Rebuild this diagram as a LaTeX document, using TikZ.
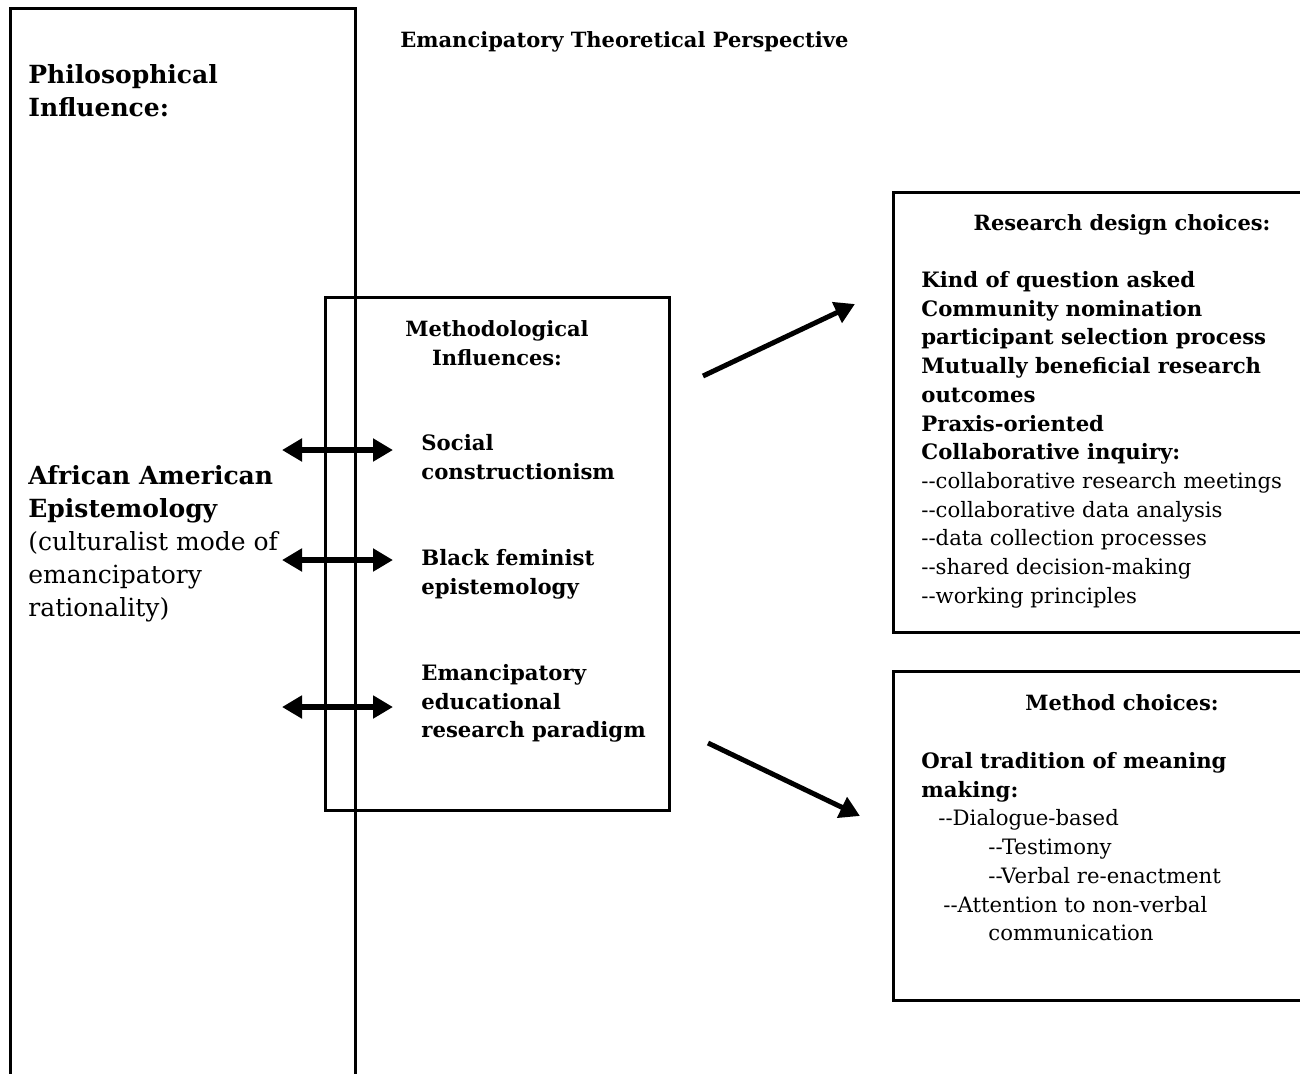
\documentclass[tikz,border=0pt]{standalone}
\usepackage{fontspec}
\setmainfont{DejaVu Serif}
\usetikzlibrary{arrows.meta}

\begin{document}
\begin{tikzpicture}[x=0.5pt, y=-0.5pt,
    box/.style={draw, line width=1.5pt},
    txt/.style={anchor=north west, inner sep=0pt, align=left, font=\fontsize{10.6}{14.35}\selectfont},
    big/.style={anchor=north west, inner sep=0pt, align=left, font=\fontsize{12.5}{16.5}\selectfont},
    head/.style={anchor=north, inner sep=0pt, align=center, font=\fontsize{10.5}{14.35}\selectfont\bfseries},
    twoway/.style={line width=3.2pt, {Triangle[length=10pt,width=11pt]}-{Triangle[length=10pt,width=11pt]}},
    oneway/.style={line width=2.5pt, -{Triangle[length=10pt,width=11pt]}}]
    \useasboundingbox (0,0) rectangle (1300,1073);
    \fill [white] (0,0) rectangle (1300,1073);

    \draw [box] (10,1085) -- (10,8) -- (355,8) -- (355,1085);
    \draw [box] (325,297) rectangle (669,810);
    \draw [box] (893,192) rectangle (1315,632);
    \draw [box] (893,671) rectangle (1315,1000);

    \node [txt, font=\fontsize{10.5}{14.35}\selectfont] (title) at (400,31) {\bfseries Emancipatory Theoretical Perspective};
    \node [big] (philo) at (28,64) {\bfseries Philosophical\\\bfseries Influence:};
    \node [big] (epist) at (28,465) {\textbf{African American}\\\textbf{Epistemology}\\(culturalist mode of\\emancipatory\\rationality)};

    \node [head] (methinf) at (497,320) {Methodological\\Influences:};
    \node [txt] (social) at (421,434) {\bfseries Social\\\bfseries constructionism};
    \node [txt] (black) at (421,549) {\bfseries Black feminist\\\bfseries epistemology};
    \node [txt] (emanc) at (421,664) {\bfseries Emancipatory\\\bfseries educational\\\bfseries research paradigm};

    \node [head] (design) at (1122,214) {Research design choices:};
    \node [txt] (designlist) at (921,271) {\textbf{Kind of question asked}\\\textbf{Community nomination}\\\textbf{participant selection process}\\\textbf{Mutually beneficial research}\\\textbf{outcomes}\\\textbf{Praxis-oriented}\\\textbf{Collaborative inquiry:}\\-{}-collaborative research meetings\\-{}-collaborative data analysis\\-{}-data collection processes\\-{}-shared decision-making\\-{}-working principles};

    \node [head] (method) at (1122,694) {Method choices:};
    \node [txt] (methodlist) at (921,752) {\textbf{Oral tradition of meaning}\\\textbf{making:}\\\hspace*{8.5pt}-{}-Dialogue-based\\\hspace*{33.5pt}-{}-Testimony\\\hspace*{33.5pt}-{}-Verbal re-enactment\\\hspace*{11pt}-{}-Attention to non-verbal\\\hspace*{33.5pt}communication};

    \coordinate (sl) at (282,450);
    \coordinate (sr) at (393,450);
    \coordinate (bl) at (282,560);
    \coordinate (br) at (393,560);
    \coordinate (el) at (282,707);
    \coordinate (er) at (393,707);
    \coordinate (up0) at (703,376);
    \coordinate (up1) at (855,304);
    \coordinate (dn0) at (708,743);
    \coordinate (dn1) at (860,816);
    \draw [twoway] (sl) -- (sr);
    \draw [twoway] (bl) -- (br);
    \draw [twoway] (el) -- (er);
    \draw [oneway] (up0) -- (up1);
    \draw [oneway] (dn0) -- (dn1);
\end{tikzpicture}
\end{document}
